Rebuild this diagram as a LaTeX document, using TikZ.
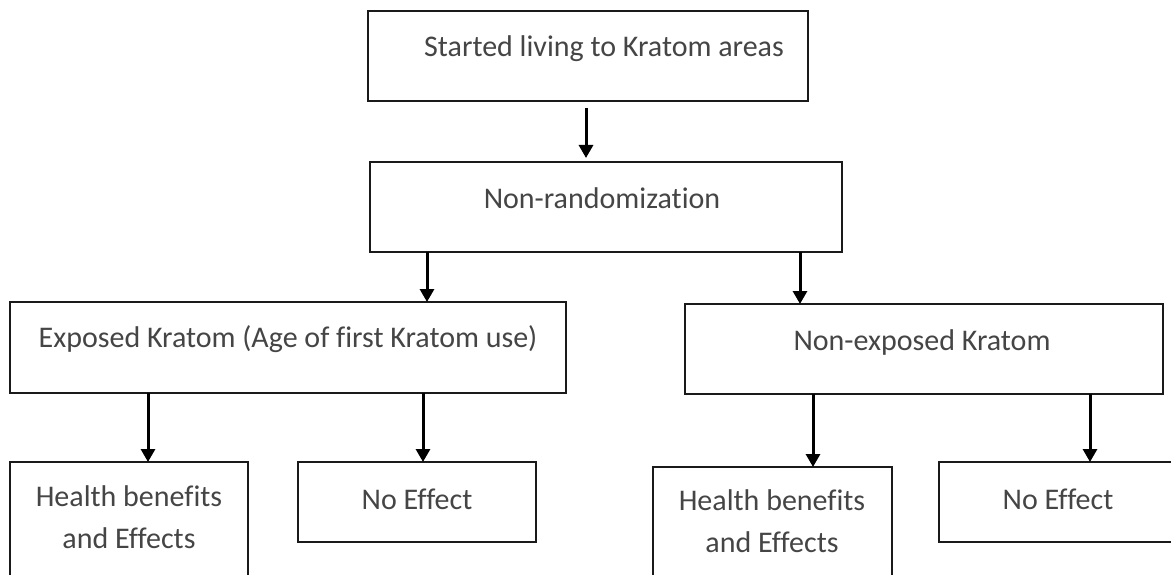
\documentclass[tikz,border=0pt]{standalone}
\usepackage{fontspec}
\setmainfont[Ligatures=NoCommon]{Carlito}
\usetikzlibrary{arrows.meta,calc}
\definecolor{txtgray}{HTML}{454545}
\definecolor{linegray}{HTML}{1A1A1A}
\tikzset{
  box/.style={draw=linegray, line width=1.6pt, rectangle, inner sep=0pt, outer sep=0pt, anchor=north west},
  lbl/.style={text=txtgray, font=\fontsize{30}{36}\selectfont, anchor=base, inner sep=0pt},
  arr/.style={draw=black, line width=3pt, -{Triangle[length=13pt,width=14pt]}},
}
\begin{document}
\begin{tikzpicture}[x=1pt,y=-1pt]
\useasboundingbox (0,0) rectangle (1171,575);
\fill[white] (0,0) rectangle (1171,575);
\clip (0,0) rectangle (1171,575);
% boxes
\node[box, minimum width=440pt, minimum height=90pt] (T) at (368,11) {};
\node[box, minimum width=472pt, minimum height=90pt] (N) at (370,162) {};
\node[box, minimum width=556pt, minimum height=91pt] (E) at (10,302) {};
\node[box, minimum width=478pt, minimum height=90pt] (NE) at (685,304) {};
\node[box, minimum width=238pt, minimum height=130pt] (H1) at (10,462) {};
\node[box, minimum width=238pt, minimum height=80pt] (F1) at (298,462) {};
\node[box, minimum width=239pt, minimum height=130pt] (H2) at (653,467) {};
\node[box, minimum width=238pt, minimum height=80pt] (F2) at (939,462) {};
% texts
\node[lbl] (tT) at (604,57) {Started living to Kratom areas};
\node[lbl] (tN) at (602,208) {Non-randomization};
\node[lbl] (tE) at (288,347) {Exposed Kratom (Age of first Kratom use)};
\node[lbl] (tNE) at (922,350) {Non-exposed Kratom};
\node[lbl] (tH1a) at (129,506) {Health benefits};
\node[lbl] (tH1b) at (129,548) {and Effects};
\node[lbl] (tF1) at (417,509) {No Effect};
\node[lbl] (tH2a) at (772,510) {Health benefits};
\node[lbl] (tH2b) at (772,552) {and Effects};
\node[lbl] (tF2) at (1058,509) {No Effect};
% arrow columns
\coordinate (c0) at (586,0);
\coordinate (c1) at (427,0);
\coordinate (c2) at (800,0);
\coordinate (c3) at (148,0);
\coordinate (c4) at (423,0);
\coordinate (c5) at (813,0);
\coordinate (c6) at (1090,0);
% arrows
\draw[arr, shorten <=7pt, shorten >=4pt] (T.south -| c0) -- (N.north -| c0);
\draw[arr] (N.south -| c1) -- (E.north -| c1);
\draw[arr] (N.south -| c2) -- (NE.north -| c2);
\draw[arr] (E.south -| c3) -- (H1.north -| c3);
\draw[arr] (E.south -| c4) -- (F1.north -| c4);
\draw[arr] (NE.south -| c5) -- (H2.north -| c5);
\draw[arr] (NE.south -| c6) -- (F2.north -| c6);
\end{tikzpicture}
\end{document}
